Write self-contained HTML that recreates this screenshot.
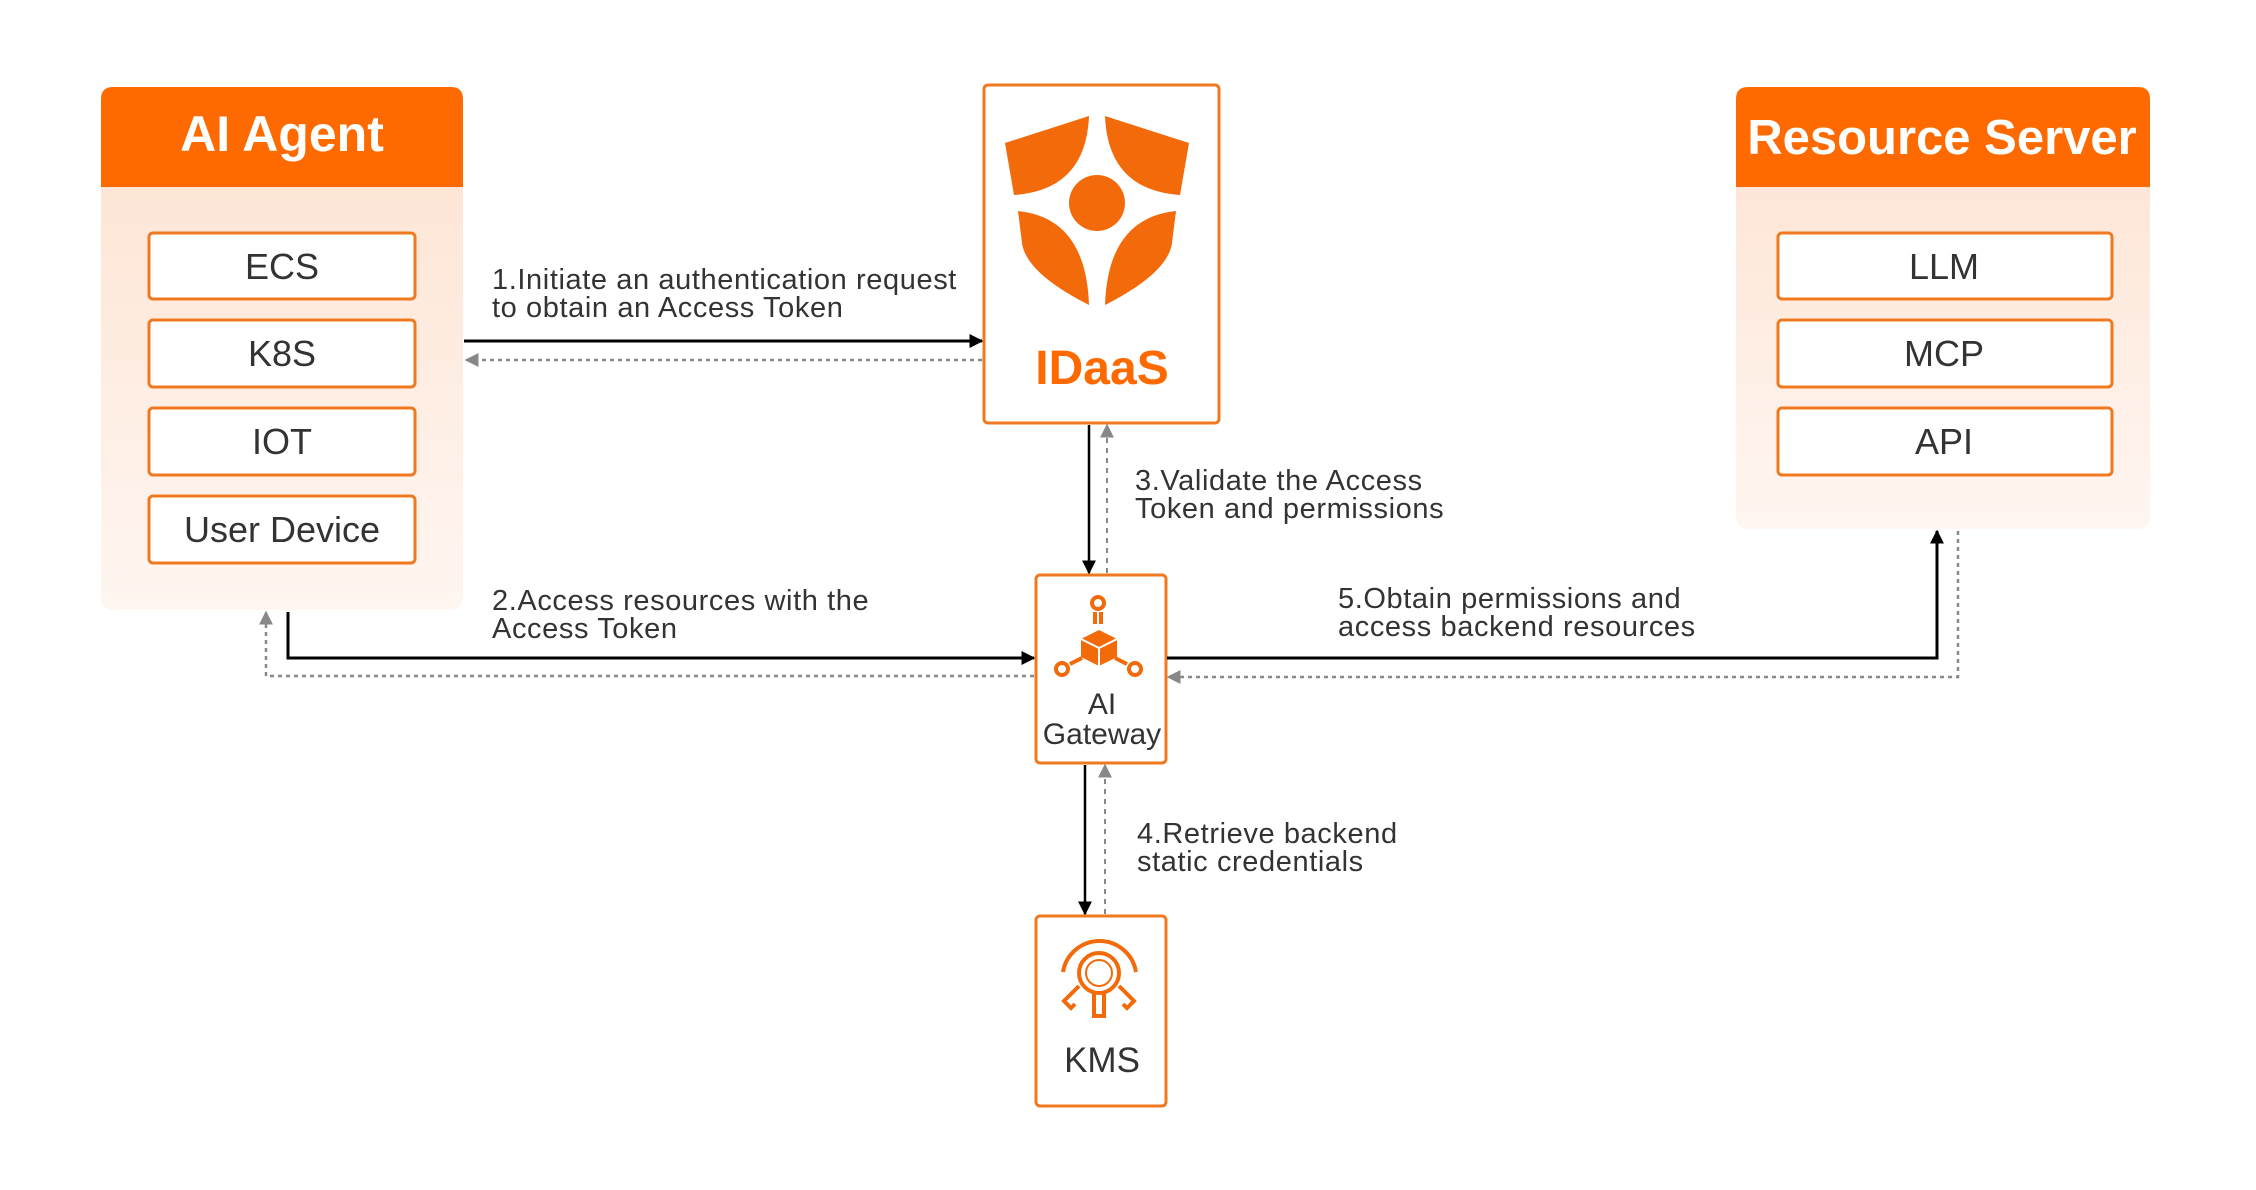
<!DOCTYPE html>
<html><head><meta charset="utf-8"><style>
html,body{margin:0;padding:0;background:#fff;}
svg{display:block}
text{font-family:"Liberation Sans","DejaVu Sans",sans-serif;}
</style></head><body>
<svg width="2256" height="1190" viewBox="0 0 2256 1190" xmlns="http://www.w3.org/2000/svg">
<defs>
<linearGradient id="g" x1="0" y1="0" x2="0" y2="1">
<stop offset="0" stop-color="#fde2d0"/><stop offset="1" stop-color="#fff6f1"/>
</linearGradient>
<marker id="ab" viewBox="0 0 10 10" refX="9" refY="5" markerWidth="14" markerHeight="14" markerUnits="userSpaceOnUse" orient="auto"><path d="M0,0 L10,5 L0,10 Z" fill="#000"/></marker>
<marker id="ag" viewBox="0 0 10 10" refX="9" refY="5" markerWidth="14" markerHeight="14" markerUnits="userSpaceOnUse" orient="auto"><path d="M0,0 L10,5 L0,10 Z" fill="#888"/></marker>
</defs>

<!-- AI Agent -->
<rect x="101" y="87" width="362" height="523" rx="12" fill="url(#g)"/>
<path d="M113,87 H451 Q463,87 463,99 V187 H101 V99 Q101,87 113,87 Z" fill="#ff6a00"/>
<text x="282" y="151" text-anchor="middle" font-size="50" font-weight="bold" fill="#fff">AI Agent</text>
<g fill="#fff" stroke="#f0781e" stroke-width="3">
<rect x="149" y="233" width="266" height="66" rx="4"/>
<rect x="149" y="320" width="266" height="67" rx="4"/>
<rect x="149" y="408" width="266" height="67" rx="4"/>
<rect x="149" y="496" width="266" height="67" rx="4"/>
</g>
<g font-size="36" fill="#333" text-anchor="middle">
<text x="282" y="279">ECS</text><text x="282" y="366">K8S</text>
<text x="282" y="454">IOT</text><text x="282" y="542">User Device</text>
</g>

<!-- Resource Server -->
<g transform="translate(-9,0)">
<rect x="1745" y="87" width="414" height="442" rx="12" fill="url(#g)"/>
<path d="M1757,87 H2147 Q2159,87 2159,99 V187 H1745 V99 Q1745,87 1757,87 Z" fill="#ff6a00"/>
<text x="1951" y="154" text-anchor="middle" font-size="49" font-weight="bold" fill="#fff">Resource Server</text>
<g fill="#fff" stroke="#f0781e" stroke-width="3">
<rect x="1787" y="233" width="334" height="66" rx="4"/>
<rect x="1787" y="320" width="334" height="67" rx="4"/>
<rect x="1787" y="408" width="334" height="67" rx="4"/>
</g>
<g font-size="36" fill="#333" text-anchor="middle">
<text x="1953" y="279">LLM</text><text x="1953" y="366">MCP</text><text x="1953" y="454">API</text>
</g>
</g>

<g transform="translate(-4,-2)">
<!-- IDaaS -->
<rect x="988" y="87" width="235" height="338" rx="4" fill="#fff" stroke="#f0781e" stroke-width="3"/>
<g fill="#f26a0a">
<path d="M1009,145 L1093,118 Q1090,192 1018,197 Z"/>
<path d="M1193,145 L1109,118 Q1112,192 1184,197 Z"/>
<circle cx="1101" cy="205" r="28"/>
<path d="M1022,213 Q1090,220 1093,307 Q1030,275 1026,245 Z"/>
<path d="M1180,213 Q1112,220 1109,307 Q1172,275 1176,245 Z"/>
</g>
<text x="1106" y="386" text-anchor="middle" font-size="48" font-weight="bold" fill="#ff6a00">IDaaS</text>

<!-- Gateway -->
<rect x="1040" y="577" width="130" height="188" rx="4" fill="#fff" stroke="#f0781e" stroke-width="3"/>
<g fill="none" stroke="#f26a0a" stroke-width="4">
<circle cx="1102" cy="605" r="6"/><circle cx="1066" cy="671" r="6"/><circle cx="1139" cy="671" r="6"/>
<path d="M1099,614 V626 M1105,614 V626 M1074,666 L1086,660 M1131,666 L1119,660"/>
</g>
<path d="M1103,632 L1121,641 V659 L1103,668 L1085,659 V641 Z" fill="#f26a0a"/>
<path d="M1085,641 L1103,650 L1121,641 M1103,650 V668" stroke="#fff" stroke-width="2" fill="none"/>
<text x="1106" y="716" text-anchor="middle" font-size="30" fill="#333">AI</text>
<text x="1106" y="746" text-anchor="middle" font-size="30" fill="#333">Gateway</text>

<!-- KMS -->
<rect x="1040" y="918" width="130" height="190" rx="4" fill="#fff" stroke="#f0781e" stroke-width="3"/>
<g fill="none" stroke="#f26a0a" stroke-width="4">
<path d="M1067,974 A37,37 0 0 1 1140,974"/>
<circle cx="1103" cy="975" r="20"/><circle cx="1103" cy="975" r="13" stroke-width="2"/>
<path d="M1098,994 V1018 H1108 V994"/>
<path d="M1083,988 L1068,1003 L1075,1010 L1079,1006 M1123,988 L1138,1003 L1131,1010 L1127,1006"/>
</g>
<text x="1106" y="1074" text-anchor="middle" font-size="35" fill="#333">KMS</text>

<g fill="none">
<path d="M1093,427 V575" stroke="#000" stroke-width="2.5" marker-end="url(#ab)"/>
<path d="M1111,575 V427" stroke="#888" stroke-width="2" stroke-dasharray="5,5" marker-end="url(#ag)"/>
<path d="M1089,767 V916" stroke="#000" stroke-width="2.5" marker-end="url(#ab)"/>
<path d="M1109,916 V767" stroke="#888" stroke-width="2" stroke-dasharray="5,5" marker-end="url(#ag)"/>
</g>
</g>

<!-- Connectors -->
<g fill="none">
<path d="M464,341 H982" stroke="#000" stroke-width="3" marker-end="url(#ab)"/>
<path d="M982,360 H466" stroke="#888" stroke-width="2.5" stroke-dasharray="4,4" marker-end="url(#ag)"/>
<path d="M288,612 V658 H1034" stroke="#000" stroke-width="3" marker-end="url(#ab)"/>
<path d="M1034,676 H266 V612" stroke="#888" stroke-width="2.5" stroke-dasharray="4,4" marker-end="url(#ag)"/>
<path d="M1167,658 H1937 V531" stroke="#000" stroke-width="3" marker-end="url(#ab)"/>
<path d="M1958,531 V677 H1168" stroke="#888" stroke-width="2.5" stroke-dasharray="4,4" marker-end="url(#ag)"/>
</g>

<!-- Labels -->
<g font-size="29" fill="#333" letter-spacing="0.6">
<text x="492" y="289">1.Initiate an authentication request</text>
<text x="492" y="317">to obtain an Access Token</text>
<text x="1135" y="490">3.Validate the Access</text>
<text x="1135" y="518">Token and permissions</text>
<text x="492" y="610">2.Access resources with the</text>
<text x="492" y="638">Access Token</text>
<text x="1338" y="608">5.Obtain permissions and</text>
<text x="1338" y="636">access backend resources</text>
<text x="1137" y="843">4.Retrieve backend</text>
<text x="1137" y="871">static credentials</text>
</g>
</svg>
</body></html>
